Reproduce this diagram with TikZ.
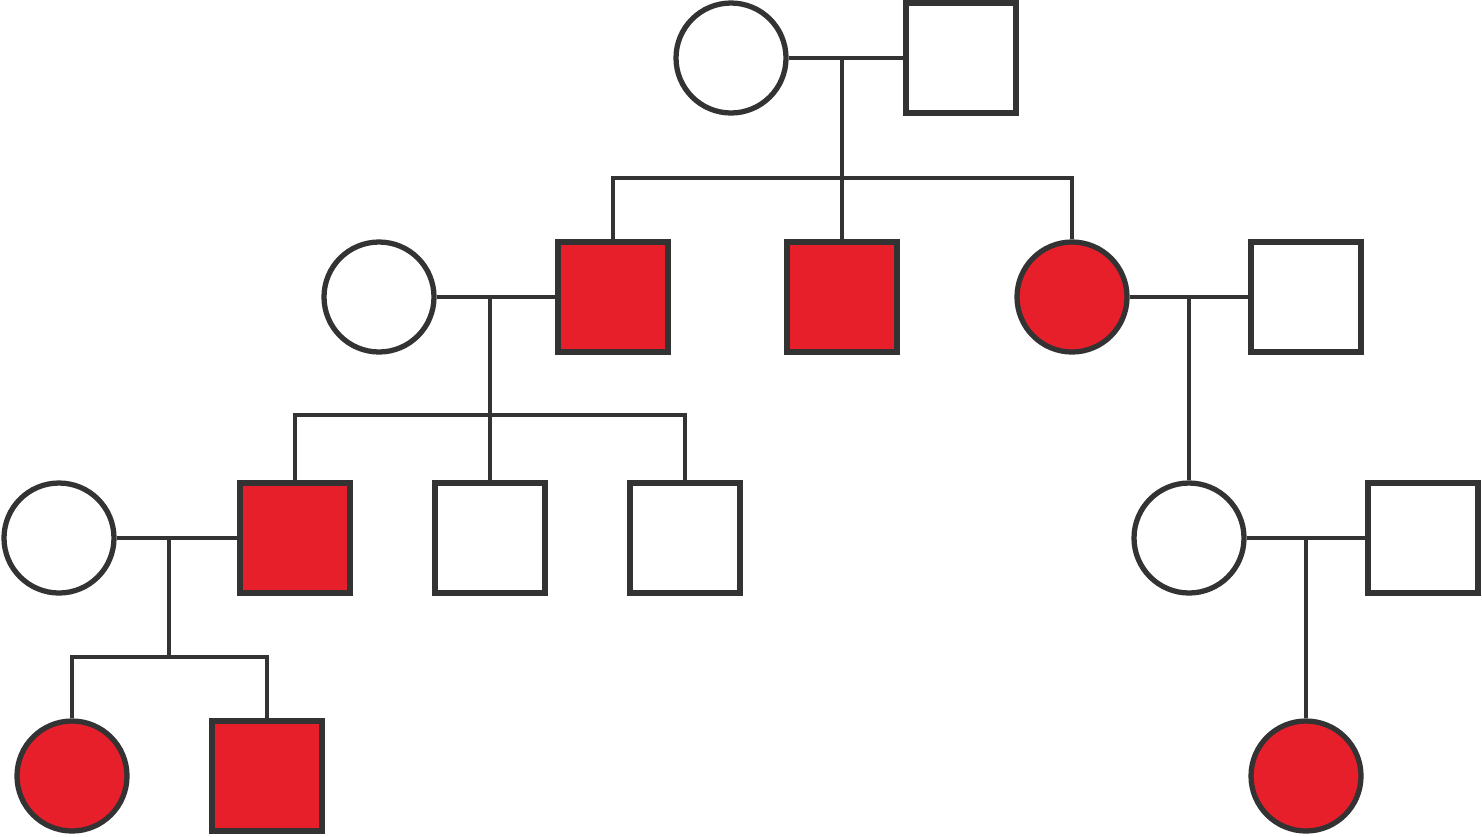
\documentclass[tikz,border=0pt]{standalone}
\usepackage{xcolor}
\usepackage{tikz}
\definecolor{affred}{RGB}{230,31,43}
\definecolor{pedline}{RGB}{51,51,51}

\begin{document}
\begin{tikzpicture}[
    conn/.style={draw=pedline,line width=1.3pt},
    male/.style={draw=pedline,line width=1.5pt,rectangle,minimum size=1.10cm,inner sep=0pt,fill=white},
    female/.style={draw=pedline,line width=1.5pt,circle,minimum size=1.10cm,inner sep=0pt,fill=white},
    aff/.style={fill=affred}]
  \useasboundingbox (0,0) rectangle (14.82,8.36);
  % generation I
  \node[female] (I1) at (7.31,7.78) {};
  \node[male] (I2) at (9.61,7.78) {};
  % generation II
  \node[female] (II1) at (3.79,5.39) {};
  \node[male,aff] (II2) at (6.13,5.39) {};
  \node[male,aff] (II3) at (8.42,5.39) {};
  \node[female,aff] (II4) at (10.72,5.39) {};
  \node[male] (II5) at (13.06,5.39) {};
  % generation III
  \node[female] (III1) at (0.59,2.98) {};
  \node[male,aff] (III2) at (2.95,2.98) {};
  \node[male] (III3) at (4.90,2.98) {};
  \node[male] (III4) at (6.85,2.98) {};
  \node[female] (III5) at (11.89,2.98) {};
  \node[male] (III6) at (14.23,2.98) {};
  % generation IV
  \node[female,aff] (IV1) at (0.72,0.60) {};
  \node[male,aff] (IV2) at (2.67,0.60) {};
  \node[female,aff] (IV3) at (13.06,0.60) {};

  \coordinate (m1) at (8.42,7.78);
  \coordinate (s1) at (8.42,6.58);
  \coordinate (m2) at (4.90,5.39);
  \coordinate (s2) at (4.90,4.21);
  \coordinate (m3) at (11.89,5.39);
  \coordinate (m4) at (1.69,2.98);
  \coordinate (s4) at (1.69,1.79);
  \coordinate (m5) at (13.06,2.98);

  \draw[conn] (I1.east) -- (I2.west);
  \draw[conn] (m1) -- (II3.north);
  \draw[conn] (II2.north) |- (s1) -| (II4.north);

  \draw[conn] (II1.east) -- (II2.west);
  \draw[conn] (m2) -- (III3.north);
  \draw[conn] (III2.north) |- (s2) -| (III4.north);

  \draw[conn] (II4.east) -- (II5.west);
  \draw[conn] (m3) -- (III5.north);

  \draw[conn] (III1.east) -- (III2.west);
  \draw[conn] (m4) -- (s4);
  \draw[conn] (IV1.north) |- (s4) -| (IV2.north);

  \draw[conn] (III5.east) -- (III6.west);
  \draw[conn] (m5) -- (IV3.north);
\end{tikzpicture}
\end{document}
